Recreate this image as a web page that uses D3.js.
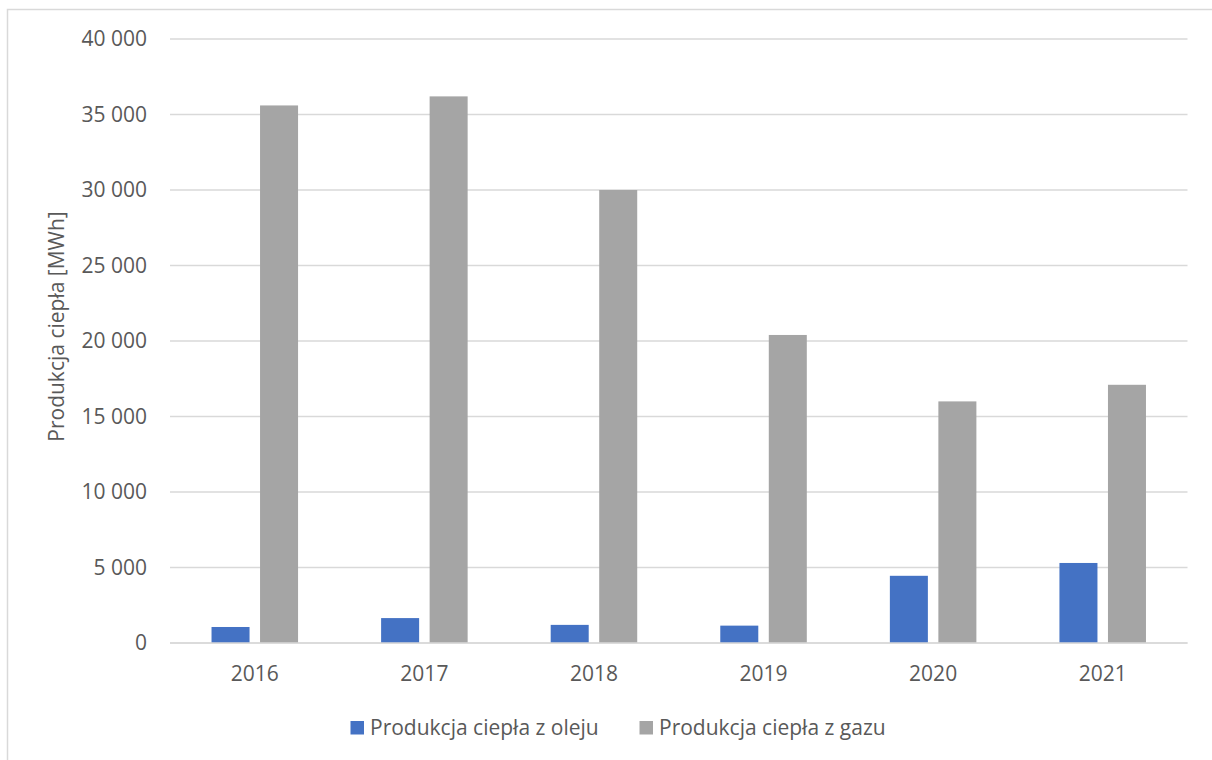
<!DOCTYPE html>
<html>
<head>
<meta charset="utf-8">
<script src="https://cdn.jsdelivr.net/npm/d3@7"></script>
<style>
  html, body { margin: 0; padding: 0; background: #fff; }
  svg { display: block; }
  text { font-family: "Open Sans", "Noto Sans", sans-serif; fill: #595959; }
</style>
</head>
<body>
<svg id="chart" width="1212" height="760"></svg>
<script>
const categories = ["2016", "2017", "2018", "2019", "2020", "2021"];
const seriesNames = ["Produkcja ciepła z oleju", "Produkcja ciepła z gazu"];
const oilValues = [1060, 1650, 1200, 1150, 4450, 5300];
const gasValues = [35600, 36200, 30000, 20400, 16000, 17100];
const yTicks = [0, 5000, 10000, 15000, 20000, 25000, 30000, 35000, 40000];
const colors = ["#4472c4", "#a5a5a5"];
const yTitle = "Produkcja ciepła [MWh]";

const svg = d3.select("#chart");
const W = 1212, H = 760;
const mLeft = 170, mRight = 1187.5, mTop = 39, mBottom = 643;

// outer border
svg.append("path")
  .attr("d", `M7.5,${H} V9.5 H${W}`)
  .attr("fill", "none").attr("stroke", "#d9d9d9").attr("stroke-width", 1.5);

const x0 = d3.scaleBand().domain(categories).range([mLeft, mRight]).paddingInner(0).paddingOuter(0);
const x1 = d3.scaleBand().domain([0, 1]).range([0, x0.bandwidth()]).paddingInner(0.2165).paddingOuter(0.856);
const y = d3.scaleLinear().domain([0, 40000]).range([mBottom, mTop]);

const fmt = v => d3.format(",")(v).replace(/,/g, " ");

// gridlines
svg.append("g").selectAll("line").data(yTicks).join("line")
  .attr("x1", mLeft).attr("x2", mRight)
  .attr("y1", d => y(d)).attr("y2", d => y(d))
  .attr("stroke", "#d9d9d9").attr("stroke-width", 1.5);

// y axis labels
const yAxis = d3.axisLeft(y).tickValues(yTicks).tickFormat(fmt).tickSize(0).tickPadding(0);
const gy = svg.append("g").attr("transform", `translate(147,0)`).call(yAxis);
gy.select(".domain").remove();
gy.selectAll("text").attr("font-size", 21).attr("fill", "#595959")
  .style("font-family", '"Open Sans", sans-serif');

// bars
const data = categories.map((c, i) => ({ c, vals: [oilValues[i], gasValues[i]] }));
const groups = svg.append("g").selectAll("g").data(data).join("g")
  .attr("transform", d => `translate(${x0(d.c)},0)`);
groups.selectAll("rect").data(d => d.vals.map((v, k) => ({ v, k }))).join("rect")
  .attr("x", d => x1(d.k))
  .attr("width", x1.bandwidth())
  .attr("y", d => y(d.v))
  .attr("height", d => y(0) - y(d.v))
  .attr("fill", d => colors[d.k]);

// baseline
svg.append("line").attr("x1", mLeft).attr("x2", mRight)
  .attr("y1", y(0)).attr("y2", y(0))
  .attr("stroke", "#d9d9d9").attr("stroke-width", 1.5);

// x axis labels
const xAxis = d3.axisBottom(x0).tickSize(0).tickPadding(0);
const gx = svg.append("g").attr("transform", `translate(0,${mBottom + 23})`).call(xAxis);
gx.select(".domain").remove();
gx.selectAll("text").attr("font-size", 21).attr("fill", "#595959")
  .style("font-family", '"Open Sans", sans-serif');

// y title
svg.append("text")
  .attr("transform", `translate(64,326.5) rotate(-90)`)
  .attr("text-anchor", "middle")
  .attr("font-size", 21)
  .text(yTitle);

// legend
const legendX = [350.5, 639.5];
const lg = svg.append("g").selectAll("g").data(seriesNames).join("g")
  .attr("transform", (d, i) => `translate(${legendX[i]},721)`);
lg.append("rect").attr("width", 13.5).attr("height", 13.5).attr("fill", (d, i) => colors[i]);
lg.append("text").attr("x", 19.5).attr("y", 14).attr("font-size", 21).text(d => d);
</script>
</body>
</html>
